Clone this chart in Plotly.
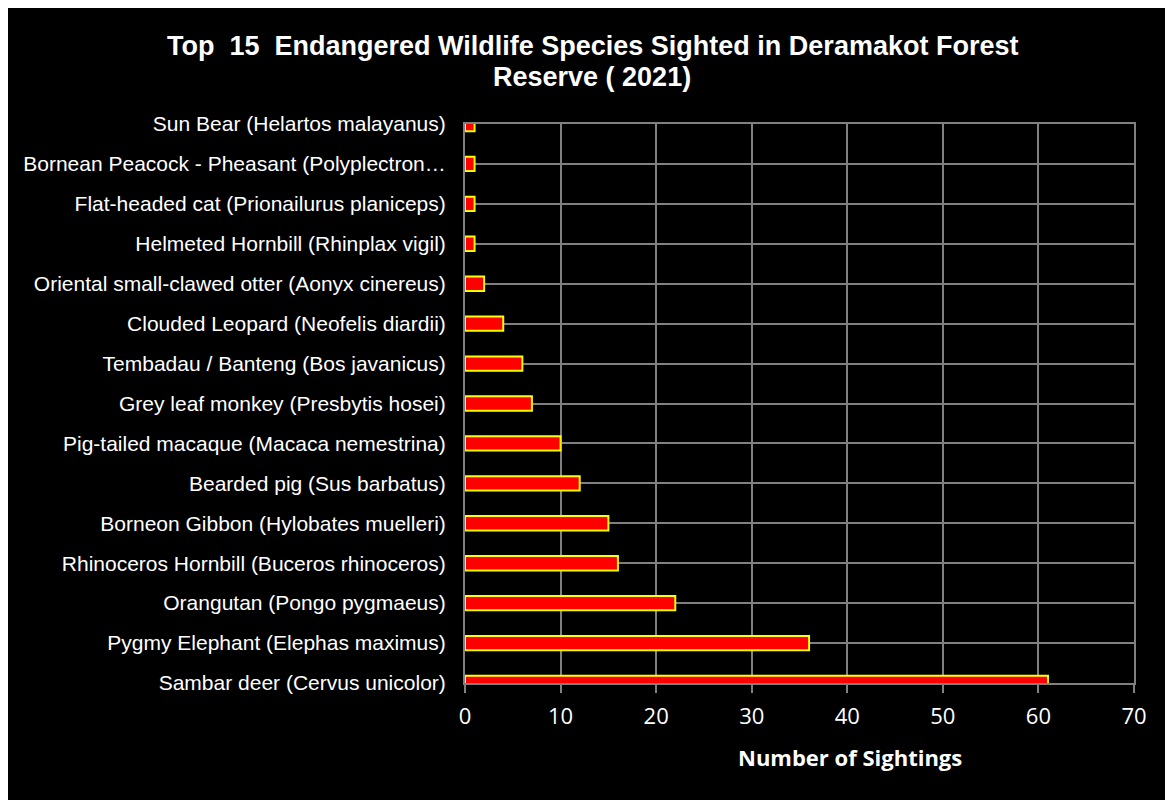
import plotly.graph_objects as go

species = [
    "Sambar deer (Cervus unicolor)",
    "Pygmy Elephant (Elephas maximus)",
    "Orangutan (Pongo pygmaeus)",
    "Rhinoceros Hornbill (Buceros rhinoceros)",
    "Borneon Gibbon (Hylobates muelleri)",
    "Bearded pig (Sus barbatus)",
    "Pig-tailed macaque (Macaca nemestrina)",
    "Grey leaf monkey (Presbytis hosei)",
    "Tembadau / Banteng (Bos javanicus)",
    "Clouded Leopard (Neofelis diardii)",
    "Oriental small-clawed otter (Aonyx cinereus)",
    "Helmeted Hornbill (Rhinplax vigil)",
    "Flat-headed cat (Prionailurus planiceps)",
    "Bornean Peacock - Pheasant (Polyplectron\u2026",
    "Sun Bear (Helartos malayanus)",
]
sightings = [61, 36, 22, 16, 15, 12, 10, 7, 6, 4, 2, 1, 1, 1, 1]
x_ticks = [0, 10, 20, 30, 40, 50, 60, 70]
title_lines = ["Top  15  Endangered Wildlife Species Sighted in Deramakot Forest",
               "Reserve ( 2021)"]

fig = go.Figure(go.Bar(
    x=sightings, y=species, orientation="h",
    width=0.36,
    marker=dict(color="#ff0000", line=dict(color="#ffff00", width=2)),
))

title_font = dict(family="Liberation Sans, Arial", size=27, color="white")

fig.update_layout(
    width=1173, height=800,
    paper_bgcolor="black", plot_bgcolor="black",
    margin=dict(l=457, r=47, t=116, b=125),
    showlegend=False,
    xaxis=dict(
        range=[0, 70], tickvals=x_ticks,
        showgrid=True, gridcolor="#808080", gridwidth=2,
        zeroline=False, showline=True, linecolor="#808080", linewidth=2, mirror=True,
        ticks="outside", ticklen=8, tickcolor="#808080", tickwidth=2,
        tickfont=dict(family="Open Sans", size=22, color="white"),
        ticklabelstandoff=5,
    ),
    yaxis=dict(
        categoryorder="array", categoryarray=species,
        range=[0, 14],
        showgrid=True, gridcolor="#808080", gridwidth=2,
        zeroline=False, showline=True, linecolor="#808080", linewidth=2, mirror=True,
        ticks="", tickfont=dict(family="Liberation Sans, Arial", size=21, color="white"),
        ticklabelstandoff=13,
    ),
    annotations=[
        dict(text="<b>" + title_lines[0] + "</b>", xref="paper", yref="paper",
             x=0.19, y=1.1395, xanchor="center", yanchor="middle", showarrow=False,
             font=title_font),
        dict(text="<b>" + title_lines[1] + "</b>", xref="paper", yref="paper",
             x=0.19, y=1.0841, xanchor="center", yanchor="middle", showarrow=False,
             font=title_font),
        dict(text="<b>Number of Sightings</b>", xref="paper", yref="paper",
             x=0.576, y=-0.133, xanchor="center", yanchor="middle", showarrow=False,
             font=dict(family="Open Sans", size=22, color="white")),
    ],
)

fig.write_html("out.html")
